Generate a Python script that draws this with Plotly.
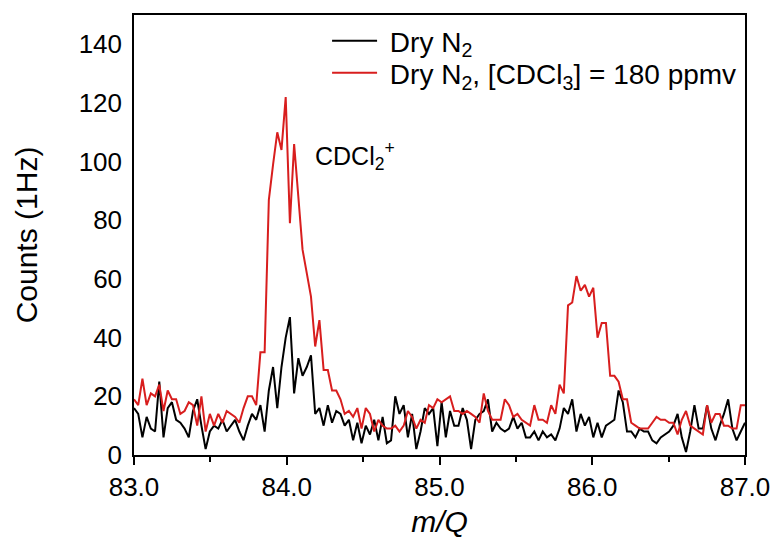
import numpy as np
import plotly.graph_objects as go

# m/Q grid (instrument sampling, 146 channels from 83 to 87)
mq = np.linspace(83.0, 87.0, 146)

dry_n2 = [16, 14, 6, 13, 9, 8, 25, 6, 16, 18, 12, 11, 9, 6, 15, 19, 10, 2, 8, 10,
          9, 12, 8, 10, 12, 8, 5, 10, 14, 12, 17, 8, 22, 30, 16, 30, 40, 47, 21, 33,
          27, 30, 34, 14, 16, 10, 17, 11, 15, 14, 10, 12, 5, 11, 4, 10, 7, 12, 5, 13,
          4, 5, 20, 14, 17, 6, 14, 2, 8, 16, 14, 16, 3, 18, 6, 15, 10, 10, 16, 12,
          2, 12, 14, 15, 19, 8, 11, 9, 8, 9, 13, 9, 11, 6, 6, 8, 5, 8, 6, 7,
          5, 9, 16, 14, 19, 8, 14, 10, 13, 6, 11, 6, 10, 11, 12, 22, 18, 8, 8, 6,
          9, 8, 8, 5, 4, 6, 7, 8, 10, 14, 6, 1, 8, 17, 9, 9, 17, 9, 5, 10,
          14, 19, 9, 5, 8, 11]

dry_n2_cdcl3 = [19, 17, 26, 17, 21, 20, 24, 15, 22, 19, 19, 14, 15, 18, 17, 10, 20, 8, 14, 10,
                14, 11, 15, 14, 13, 11, 16, 20, 20, 17, 35, 35, 87, 99, 110, 104, 122, 79, 106, 88,
                70, 62, 54, 37, 46, 29, 29, 22, 22, 19, 14, 15, 13, 16, 9, 16, 14, 8, 12, 10,
                9, 9, 10, 8, 10, 15, 13, 9, 12, 11, 17, 16, 19, 18, 19, 20, 15, 15, 14, 15,
                14, 13, 11, 21, 15, 12, 12, 12, 19, 17, 13, 14, 12, 11, 10, 17, 12, 12, 11, 17,
                14, 24, 21, 51, 52, 61, 56, 58, 54, 57, 40, 45, 45, 27, 27, 25, 19, 19, 11, 10,
                9, 9, 9, 11, 13, 12, 12, 11, 11, 7, 12, 15, 10, 9, 8, 7, 17, 11, 14, 14,
                10, 10, 9, 9, 17, 17]

series_names = ["&nbsp;Dry N<sub>2</sub>", "&nbsp;Dry N<sub>2</sub>, [CDCl<sub>3</sub>] = 180 ppmv"]
series_colors = ["#000000", "#d81e1e"]
x_ticks = [83.0, 84.0, 85.0, 86.0, 87.0]
y_ticks = [0, 20, 40, 60, 80, 100, 120, 140]

FONT = "Liberation Sans, Arial, sans-serif"

fig = go.Figure()
for ys, name, col, lg in zip([dry_n2, dry_n2_cdcl3], series_names, series_colors,
                             ["legend", "legend2"]):
    fig.add_trace(go.Scatter(x=mq, y=ys, mode="lines", name=name, legend=lg,
                             line=dict(color=col, width=2)))

fig.add_annotation(x=84.45, y=102, xref="x", yref="y",
                   text="CDCl<sub>2</sub><sup>+</sup>", showarrow=False,
                   font=dict(family=FONT, size=25, color="black"))

legend_common = dict(xanchor="left", yanchor="middle", bgcolor="rgba(0,0,0,0)",
                     font=dict(family=FONT, size=28), itemwidth=45)

fig.update_layout(
    width=782, height=546,
    margin=dict(l=134, r=31, t=15, b=91),
    paper_bgcolor="white", plot_bgcolor="white",
    font=dict(family=FONT, size=25, color="black"),
    showlegend=True,
    legend=dict(x=0.316, y=0.941, **legend_common),
    legend2=dict(x=0.316, y=0.868, **legend_common),
)
fig.update_xaxes(range=[83.0, 87.0], tickvals=x_ticks,
                 ticktext=[f"{v:.1f}" for v in x_ticks],
                 ticks="outside", ticklen=8, tickwidth=1.5, tickcolor="black",
                 minor=dict(dtick=0.5, ticks="outside", ticklen=5, tickwidth=1.5, tickcolor="black"),
                 showline=True, linecolor="black", linewidth=1.5, mirror=True,
                 showgrid=False, zeroline=False,
                 title=dict(text="<i>m/Q</i>", standoff=10),
                 tickfont=dict(size=26))
fig.update_yaxes(range=[0, 150], tickvals=y_ticks, ticks="",
                 showline=True, linecolor="black", linewidth=1.5, mirror=True,
                 showgrid=False, zeroline=False,
                 ticklabelstandoff=5,
                 title=dict(text="Counts (1Hz)", standoff=32),
                 tickfont=dict(size=26))

fig.write_html("out.html")
